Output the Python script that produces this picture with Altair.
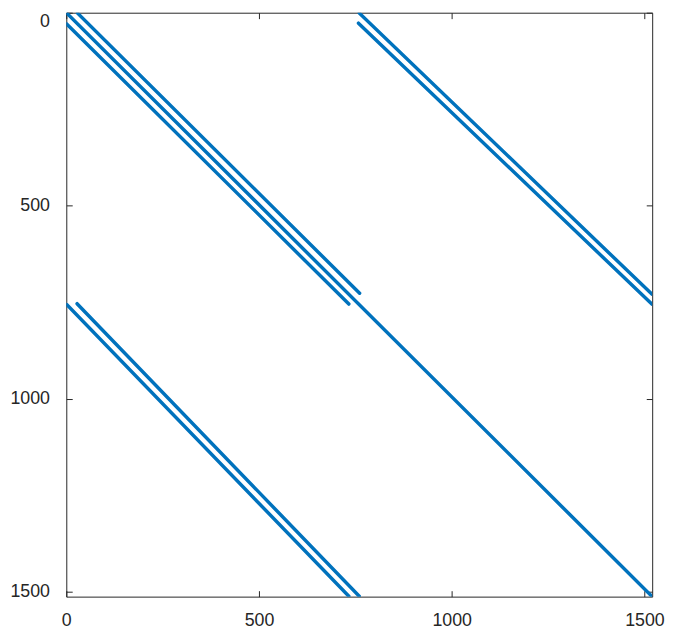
import altair as alt
import pandas as pd

# Nonzero diagonals of the sparse matrix (spy plot), as segments: column/row start and end
seg_names = ["A upper", "A lower", "main", "B upper", "B lower", "C left", "C right"]
col_start = [29, 1, 1, 760, 758, 1, 28]
row_start = [1, 29, 1, 1, 27, 756, 754]
col_end = [761, 733, 1519, 1519, 1519, 733, 760]
row_end = [727, 755, 1512, 729, 755, 1512, 1512]

tick_values = [0, 500, 1000, 1500]
x_domain = [0, 1520]
y_domain = [0, 1513]

df = pd.DataFrame({
    "seg": seg_names,
    "c0": col_start, "r0": row_start,
    "c1": col_end, "r1": row_end,
})

INK = "#262626"
common = dict(
    values=tick_values, grid=False, domain=False, tickSize=6, tickColor=INK,
    tickWidth=1, labelFont="Liberation Sans", labelFontSize=18, labelColor=INK,
    labelFlush=False, labelOverlap=False, offset=-6, format="d",
)

xscale = alt.Scale(domain=x_domain, nice=False, zero=False)
yscale = alt.Scale(domain=y_domain, nice=False, zero=False, reverse=True)

lines = alt.Chart(df).mark_rule(
    color="#0072BD", strokeWidth=3.5, strokeCap="round", clip=True
).encode(
    x=alt.X("c0:Q", scale=xscale, title=None,
            axis=alt.Axis(orient="bottom", labelPadding=15, **common)),
    y=alt.Y("r0:Q", scale=yscale, title=None,
            axis=alt.Axis(orient="left", labelPadding=17,
                          labelBaseline={"condition": {"test": "datum.value == 0", "value": "top"},
                                         "value": "middle"},
                          **common)),
    x2="c1:Q",
    y2="r1:Q",
)

frame = alt.Chart(df).mark_point(opacity=0).encode(
    x=alt.X("c0:Q", scale=xscale, title=None,
            axis=alt.Axis(orient="top", labels=False, **common)),
    y=alt.Y("r0:Q", scale=yscale, title=None,
            axis=alt.Axis(orient="right", labels=False, **common)),
)

chart = alt.layer(lines, frame).resolve_axis(
    x="independent", y="independent"
).properties(
    width=593, height=591,
    autosize=alt.AutoSizeParams(type="none"),
    padding={"left": 59, "top": 1, "right": 16, "bottom": 30},
    background="white",
).configure_view(stroke=INK, strokeWidth=1)

chart.save("out.html", embed_options={"renderer": "svg", "actions": False})
